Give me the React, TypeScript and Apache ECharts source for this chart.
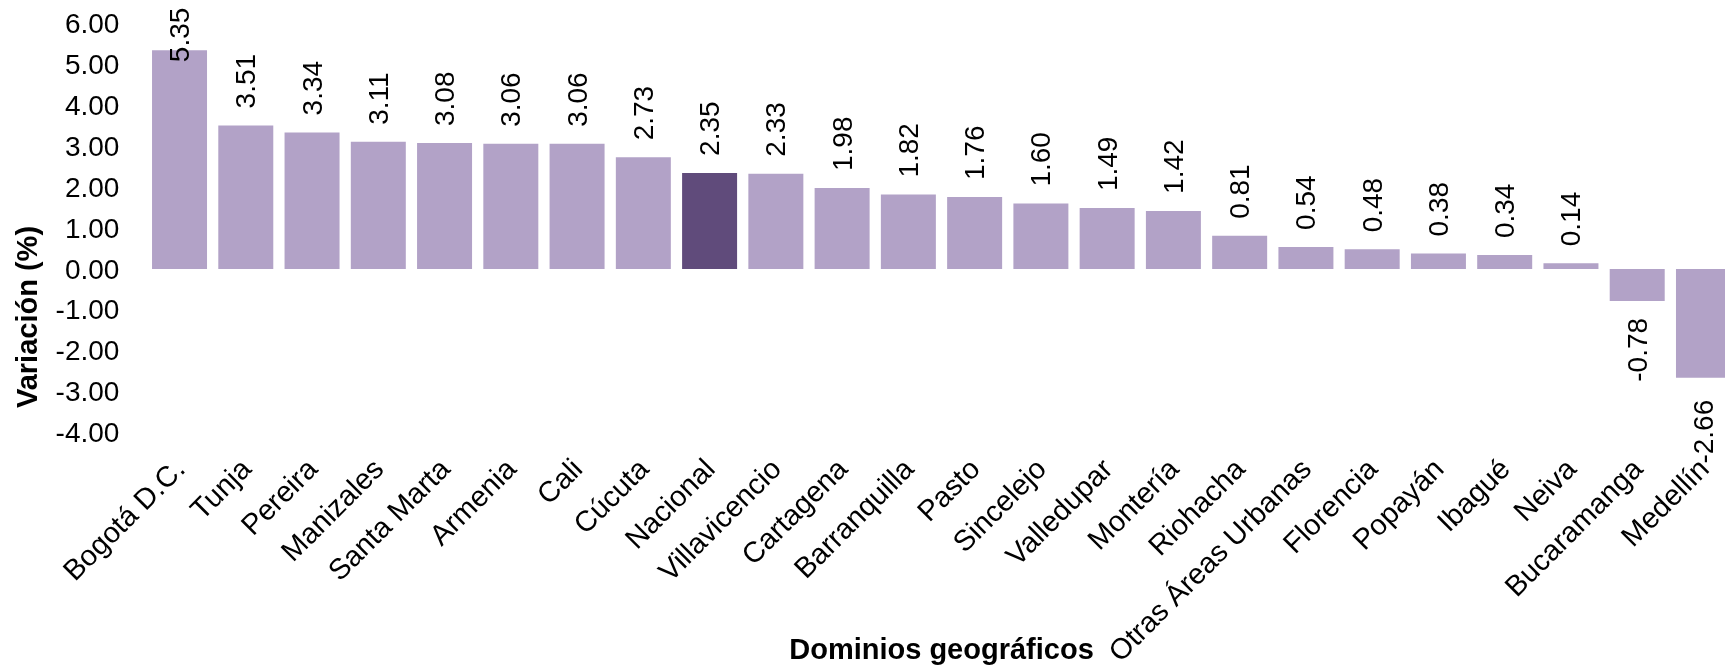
import React, { useEffect, useRef } from "react";
import * as echarts from "echarts";

const categories = [
  "Bogotá D.C.", "Tunja", "Pereira", "Manizales", "Santa Marta", "Armenia", "Cali", "Cúcuta",
  "Nacional", "Villavicencio", "Cartagena", "Barranquilla", "Pasto", "Sincelejo", "Valledupar",
  "Montería", "Riohacha", "Otras Áreas Urbanas", "Florencia", "Popayán", "Ibagué", "Neiva",
  "Bucaramanga", "Medellín",
];
const values = [
  5.35, 3.51, 3.34, 3.11, 3.08, 3.06, 3.06, 2.73, 2.35, 2.33, 1.98, 1.82, 1.76, 1.6, 1.49,
  1.42, 0.81, 0.54, 0.48, 0.38, 0.34, 0.14, -0.78, -2.66,
];
const highlighted = "Nacional";
const yTicks = { min: -4, max: 6, interval: 1 };

const FONT = "'Liberation Sans', Arial, sans-serif";
const LIGHT = "#B2A2C7";
const DARK = "#604B7B";

export default function App() {
  const ref = useRef<HTMLDivElement>(null);
  useEffect(() => {
    if (!ref.current) return;
    const chart = echarts.init(ref.current, null, { renderer: "svg" });
    const maxVal = Math.max(...values);
    const minVal = Math.min(...values);
    const data = values.map((v, i) => {
      const item: any = {
        value: v,
        itemStyle: { color: categories[i] === highlighted ? DARK : LIGHT },
      };
      if (v < 0) {
        item.label = { position: "bottom", align: "right" };
      }
      if (v === minVal) {
        item.label = { position: "bottom", align: "right", distance: 15, offset: [-7, 0] };
      }
      if (v === maxVal) {
        item.label = { distance: -18, offset: [6, 0] };
      }
      return item;
    });
    chart.setOption({
      animation: false,
      grid: {
        left: 146.4,
        right: -11.6,
        top: 23.6,
        bottom: 236.4,
        containLabel: false,
        outerBoundsMode: "none",
      },
      xAxis: {
        type: "category",
        data: categories,
        name: "Dominios geográficos",
        nameLocation: "middle",
        nameGap: 202,
        nameMoveOverlap: false,
        nameTextStyle: { fontFamily: FONT, fontSize: 29, fontWeight: "bold", color: "#000" },
        axisLine: { show: false, onZero: false },
        axisTick: { show: false },
        axisLabel: {
          interval: 0,
          rotate: 45,
          margin: 31,
          fontFamily: FONT,
          fontSize: 29,
          color: "#000",
        },
        splitLine: { show: false },
      },
      yAxis: {
        type: "value",
        min: yTicks.min,
        max: yTicks.max,
        interval: yTicks.interval,
        axisLine: { show: false },
        axisTick: { show: false },
        splitLine: { show: false },
        axisLabel: {
          margin: 27,
          fontFamily: FONT,
          fontSize: 28,
          color: "#000",
          formatter: (v: number) => v.toFixed(2),
        },
      },
      graphic: [
        {
          type: "text",
          x: 27,
          y: 317,
          rotation: Math.PI / 2,
          style: {
            text: "Variación (%)",
            font: `bold 29px ${FONT}`,
            fill: "#000",
            align: "center",
            verticalAlign: "middle",
          },
        },
      ],
      series: [
        {
          type: "bar",
          data,
          barCategoryGap: "17%",
          label: {
            show: true,
            position: "top",
            rotate: 90,
            align: "left",
            verticalAlign: "middle",
            distance: 17,
            fontFamily: FONT,
            fontSize: 28,
            color: "#000",
            formatter: (p: any) => Number(p.value).toFixed(2),
          },
        },
      ],
    });
    return () => chart.dispose();
  }, []);
  return (
    <div
      ref={ref}
      style={{ position: "fixed", left: 0, top: 0, width: 1725, height: 669 }}
    />
  );
}
